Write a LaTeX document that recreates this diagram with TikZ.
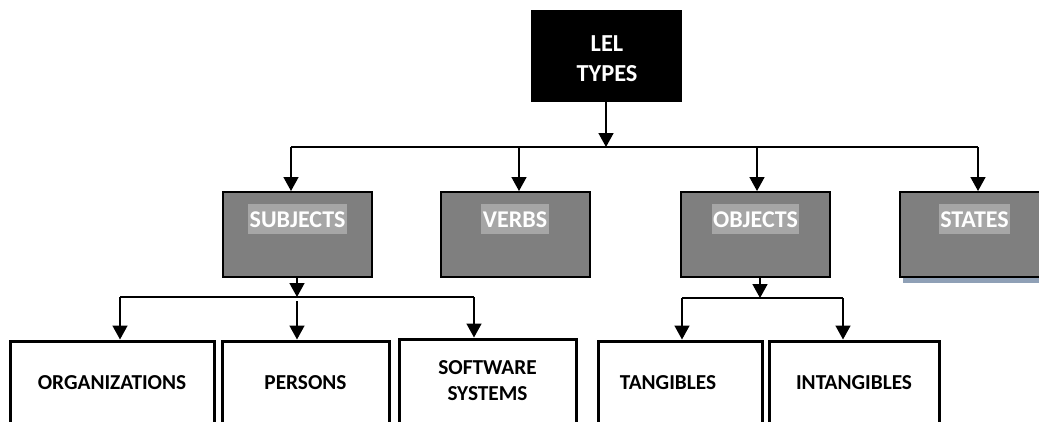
\documentclass[tikz,border=0pt]{standalone}
\usepackage{fontspec}
\setmainfont{Carlito}
\usetikzlibrary{arrows.meta,calc,shadows}
\definecolor{boxgray}{HTML}{7F7F7F}
\definecolor{hlgray}{HTML}{A6A6A6}
\definecolor{shadowblue}{HTML}{8FA0B6}

\begin{document}
\begin{tikzpicture}[x=1pt,y=-1pt,
  rootbox/.style={draw=black, fill=black, minimum width=150pt, minimum height=91pt, inner sep=0pt},
  roottext/.style={text=white, align=center, inner sep=0pt,
    font=\bfseries\fontsize{24.4}{30}\selectfont},
  catbox/.style={draw=black, fill=boxgray, line width=2pt, minimum width=149pt,
    minimum height=85pt, inner sep=0pt},
  catlabel/.style={fill=hlgray, text=white, anchor=base, inner xsep=1.5pt, inner ysep=0pt,
    text height=23pt, text depth=7pt, font=\bfseries\fontsize{24}{28}\selectfont},
  leafbox/.style={draw=black, line width=3pt, minimum height=84pt, inner sep=0pt,
    align=center, font=\bfseries\fontsize{21.3}{26}\selectfont},
  wire/.style={line width=1.6pt},
  arr/.style={line width=1.6pt, -{Triangle[width=15pt,length=14pt]}},
]
\useasboundingbox (0,0) rectangle (1039,421);
\clip (0,0) rectangle (1039,421);

% root
\node[rootbox] (lel) at (606,55.5) {};
\node[roottext] (leltext) at (607,59) {LEL\\TYPES};

% categories
\node[catbox] (subj) at (297,234.5) {};
\node[catbox] (verbs) at (515,234.5) {};
\node[catbox] (obj) at (755.5,234.5) {};
\node[catbox, general shadow={fill=shadowblue, shadow xshift=3pt, shadow yshift=-6pt}]
  (states) at (974.5,234.5) {};
\node[catlabel] (subjtext) at (297.5,227) {SUBJECTS};
\node[catlabel] (verbstext) at (515,227) {VERBS};
\node[catlabel] (objtext) at (755.5,227) {OBJECTS};
\node[catlabel] (statestext) at (974.5,227) {STATES};

% leaves
\node[leafbox, minimum width=204pt] (org) at (112,383) {ORGANIZATIONS};
\node[leafbox, minimum width=167pt] (pers) at (305.5,383) {PERSONS};
\node[leafbox, minimum width=177pt] (soft) at (487.5,381) {SOFTWARE\\SYSTEMS};
\node[leafbox, minimum width=164pt] (tang) at (680,383) {\hspace*{-24pt}TANGIBLES};
\node[leafbox, minimum width=170pt] (intang) at (854,383) {INTANGIBLES};

% root -> categories
\coordinate (t1) at (291,147);
\coordinate (t2) at (519,147);
\coordinate (t3) at (757,147);
\coordinate (t4) at (978,147);
\draw[wire] (t1) -- (t4);
\draw[arr] (lel.south) -- (lel.south |- t1);
\draw[arr] (t1) -- (t1 |- subj.north);
\draw[arr] (t2) -- (t2 |- verbs.north);
\draw[arr] (t3) -- (t3 |- obj.north);
\draw[arr] (t4) -- (t4 |- states.north);

% subjects -> leaves
\coordinate (s1) at (120,297);
\coordinate (s2) at (297,301);
\coordinate (s3) at (474,297);
\draw[wire] (s1) -- (s3);
\draw[arr] (subj.south) -- (subj.south |- s1);
\draw[arr] (s1) -- (s1 |- org.north);
\draw[arr] (s2) -- (s2 |- pers.north);
\draw[arr] (s3) -- (s3 |- soft.north);

% objects -> leaves
\coordinate (o1) at (682,298);
\coordinate (om) at (760,298);
\coordinate (o2) at (843,298);
\draw[wire] (o1) -- (o2);
\draw[arr] (obj.south -| om) -- (om);
\draw[arr] (o1) -- (o1 |- tang.north);
\draw[arr] (o2) -- (o2 |- intang.north);
\end{tikzpicture}
\end{document}
